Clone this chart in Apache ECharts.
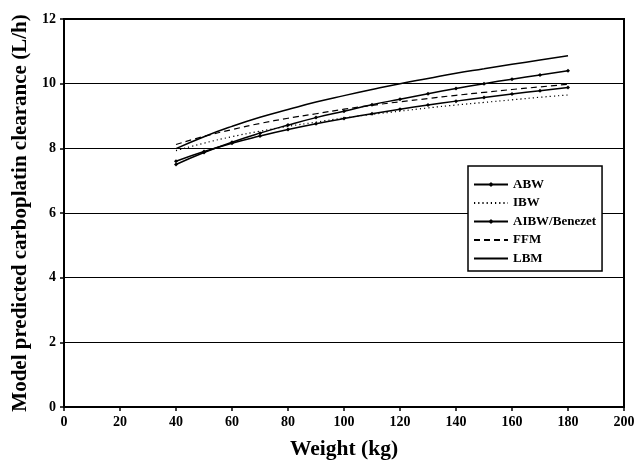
<!DOCTYPE html>
<html>
<head>
<meta charset="utf-8">
<script src="https://cdn.jsdelivr.net/npm/echarts@6/dist/echarts.min.js"></script>
<style>
  html, body { margin: 0; padding: 0; background: #fff; }
  #main { width: 636px; height: 462px; }
</style>
</head>
<body>
<div id="main"></div>
<script>
// weights (kg) and predicted clearance (L/h)
var weights = [40, 50, 60, 70, 80, 90, 100, 110, 120, 130, 140, 150, 160, 170, 180];
var abw   = [7.50, 7.87, 8.19, 8.47, 8.72, 8.95, 9.15, 9.35, 9.52, 9.69, 9.85, 10.00, 10.14, 10.27, 10.40];
var ibw   = [7.93, 8.16, 8.36, 8.53, 8.68, 8.81, 8.94, 9.05, 9.15, 9.25, 9.34, 9.42, 9.50, 9.58, 9.65];
var aibw  = [7.60, 7.90, 8.16, 8.38, 8.58, 8.76, 8.92, 9.07, 9.21, 9.34, 9.46, 9.57, 9.68, 9.78, 9.88];
var ffm   = [8.12, 8.37, 8.58, 8.77, 8.93, 9.07, 9.21, 9.33, 9.44, 9.54, 9.64, 9.73, 9.82, 9.90, 9.98];
var lbm   = [7.99, 8.36, 8.68, 8.96, 9.20, 9.43, 9.63, 9.82, 10.00, 10.16, 10.32, 10.46, 10.60, 10.73, 10.86];

var seriesNames = ['ABW', 'IBW', 'AIBW/Benezet', 'FFM', 'LBM'];
var markerSeries = ['ABW', 'AIBW/Benezet'];

var fontFam = '"Liberation Serif", "DejaVu Serif", serif';

function pairs(vals) {
  var out = [];
  for (var i = 0; i < weights.length; i++) {
    out.push([weights[i], vals[i]]);
  }
  return out;
}

function makeSeries(name, vals, lineType, withMarker) {
  return {
    name: name,
    type: 'line',
    data: pairs(vals),
    smooth: true,
    symbol: withMarker ? 'diamond' : 'none',
    symbolSize: 4,
    showSymbol: withMarker,
    itemStyle: { color: '#000' },
    lineStyle: {
      color: '#000',
      width: lineType == 'solid' ? 1.5 : 1.2,
      type: lineType
    },
    emphasis: { disabled: true },
    z: 3
  };
}

// legend entries: plain lines hide the symbol, marker lines keep a small one
var legendData = seriesNames.map(function (n) {
  if (markerSeries.indexOf(n) >= 0) {
    return { name: n };
  }
  return { name: n, itemStyle: { color: 'rgba(0,0,0,0)', borderWidth: 0 } };
});

var chart = echarts.init(document.getElementById('main'), null, { renderer: 'canvas' });

var option = {
  animation: false,
  backgroundColor: '#fff',
  grid: {
    left: 64, right: 12, top: 19, bottom: 55,
    outerBoundsMode: 'none',
    show: true,
    borderColor: '#000',
    borderWidth: 2
  },
  legend: {
    data: legendData,
    orient: 'vertical',
    left: 468,
    top: 166,
    padding: [12, 6, 6, 5],
    itemWidth: 34,
    itemHeight: 6,
    itemGap: 5.5,
    backgroundColor: '#fff',
    borderColor: '#000',
    borderWidth: 1.5,
    textStyle: { fontFamily: fontFam, fontWeight: 'bold', fontSize: 13, color: '#000' }
  },
  xAxis: {
    type: 'value',
    min: 0, max: 200, interval: 20,
    name: 'Weight (kg)',
    nameLocation: 'middle',
    nameGap: 31,
    nameTextStyle: { fontFamily: fontFam, fontWeight: 'bold', fontSize: 21.5, color: '#000' },
    axisLine: { show: true, lineStyle: { color: '#000', width: 2 } },
    axisTick: { show: true, length: 4, lineStyle: { color: '#000', width: 1.5 } },
    axisLabel: { fontFamily: fontFam, fontWeight: 'bold', fontSize: 14, color: '#000', margin: 8 },
    splitLine: { show: false }
  },
  yAxis: {
    type: 'value',
    min: 0, max: 12, interval: 2,
    name: 'Model predicted carboplatin clearance (L/h)',
    nameLocation: 'middle',
    nameGap: 27,
    nameTextStyle: { fontFamily: fontFam, fontWeight: 'bold', fontSize: 21, color: '#000' },
    axisLine: { show: true, lineStyle: { color: '#000', width: 2 } },
    axisTick: { show: true, length: 4, lineStyle: { color: '#000', width: 1.5 } },
    axisLabel: { fontFamily: fontFam, fontWeight: 'bold', fontSize: 14, color: '#000', margin: 8 },
    splitLine: { show: true, lineStyle: { color: '#000', width: 1.2 } }
  },
  series: [
    makeSeries('ABW', abw, 'solid', true),
    makeSeries('IBW', ibw, [1.2, 3], false),
    makeSeries('AIBW/Benezet', aibw, 'solid', true),
    makeSeries('FFM', ffm, [6, 4], false),
    makeSeries('LBM', lbm, 'solid', false)
  ]
};

chart.setOption(option);
</script>
</body>
</html>
